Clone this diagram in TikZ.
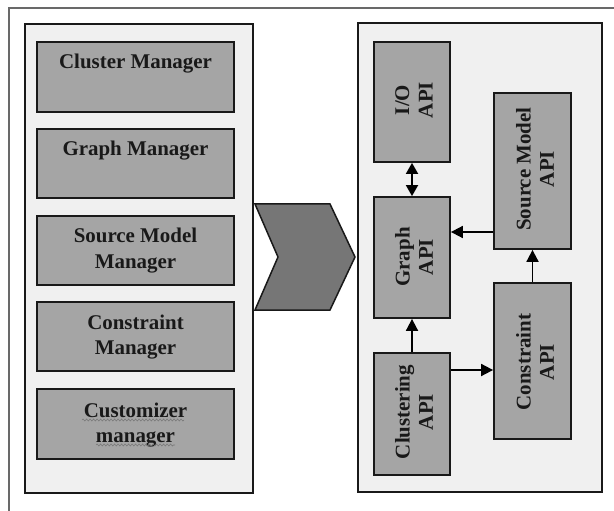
\documentclass[tikz,border=0pt]{standalone}
\usepackage{fontspec}
\setmainfont{Liberation Serif}
\usetikzlibrary{arrows.meta,decorations.pathmorphing}
\definecolor{framegray}{RGB}{105,105,105}
\definecolor{panelfill}{RGB}{240,240,240}
\definecolor{boxfill}{RGB}{165,165,165}
\definecolor{chevfill}{RGB}{118,118,118}
\definecolor{edge}{RGB}{25,25,25}
\definecolor{wavegray}{RGB}{120,120,120}
\tikzset{
  panel/.style={draw=edge, line width=1.3bp, fill=panelfill},
  module/.style={draw=edge, line width=1.8bp, fill=boxfill},
  lbl/.style={font=\bfseries\fontsize{21}{26}\selectfont, align=center, inner sep=0pt, text=black!90},
  rlbl/.style={font=\bfseries\fontsize{21}{23.5}\selectfont, align=center, inner sep=0pt, rotate=90, text=black!90},
  link/.style={line width=1.8bp, draw=black, -{Triangle[length=12bp,width=12bp]}},
  dlink/.style={line width=1.8bp, draw=black, {Triangle[length=11bp,width=12bp]}-{Triangle[length=11bp,width=12bp]}},
  spell/.style={draw=wavegray, line width=0.6bp, decorate, decoration={snake, amplitude=1bp, segment length=3.5bp}}
}
\begin{document}
\begin{tikzpicture}[x=1bp, y=-1bp]
  \useasboundingbox (0,0) rectangle (614,511);
  \fill[white] (0,0) rectangle (614,511);
  % outer frame
  \draw[framegray, line width=1.8bp] (614,8) -- (9,8) -- (9,511);

  % left panel: managers
  \node[panel, minimum width=228bp, minimum height=469bp, inner sep=0pt] (lpanel) at (139,258.5) {};
  \node[module, minimum width=197bp, minimum height=70bp, inner sep=0pt] (cm) at (135.5,77) {};
  \node[module, minimum width=197bp, minimum height=69bp, inner sep=0pt] (gm) at (135.5,163.5) {};
  \node[module, minimum width=197bp, minimum height=69bp, inner sep=0pt] (sm) at (135.5,250.5) {};
  \node[module, minimum width=197bp, minimum height=69bp, inner sep=0pt] (km) at (135.5,336.5) {};
  \node[module, minimum width=197bp, minimum height=70bp, inner sep=0pt] (um) at (135.5,424) {};

  \node[lbl] (cmt) at (135.5,64) {Cluster Manager};
  \node[lbl] (gmt) at (135.5,151) {Graph Manager};
  \node[lbl] (smt) at (135.5,251) {Source Model\\Manager};
  \node[lbl] (kmt) at (135.5,337) {Constraint\\Manager};
  \node[lbl] (umt) at (135.5,425) {Customizer\\manager};
  % spell-check marks under the last label
  \draw[spell] (82,420) -- (184,420);
  \draw[spell] (96,445) -- (175,445);

  % chevron between the panels
  \draw[edge, line width=1.5bp, fill=chevfill]
    (255,204) -- (330,204) -- (355,257) -- (330,310) -- (255,310) -- (278,257) -- cycle;

  % right panel: APIs
  \node[panel, minimum width=244bp, minimum height=469bp, inner sep=0pt] (rpanel) at (480,257.5) {};
  \node[module, minimum width=76bp, minimum height=120bp, inner sep=0pt] (io) at (412,102) {};
  \node[module, minimum width=77bp, minimum height=156bp, inner sep=0pt] (srcapi) at (532.5,171) {};
  \node[module, minimum width=76bp, minimum height=121bp, inner sep=0pt] (graph) at (412,257.5) {};
  \node[module, minimum width=76bp, minimum height=122bp, inner sep=0pt] (clust) at (412,414) {};
  \node[module, minimum width=77bp, minimum height=156bp, inner sep=0pt] (cons) at (532.5,361) {};

  \node[rlbl] (iot) at (414,100) {I/O\\API};
  \node[rlbl] (srct) at (535,169) {Source Model\\API};
  \node[rlbl] (grt) at (414,257) {Graph\\API};
  \node[rlbl] (clt) at (414,412) {Clustering\\API};
  \node[rlbl] (cot) at (535,362) {Constraint\\API};

  % connectors
  \draw[dlink] (io.south) -- (graph.north);
  \draw[link] (srcapi.west |- 0,232) -- (graph.east |- 0,232);
  \draw[link] (cons.north) -- (srcapi.south);
  \draw[link] (clust.north) -- (graph.south);
  \draw[link] (clust.east |- 0,370) -- (cons.west |- 0,370);
\end{tikzpicture}
\end{document}
